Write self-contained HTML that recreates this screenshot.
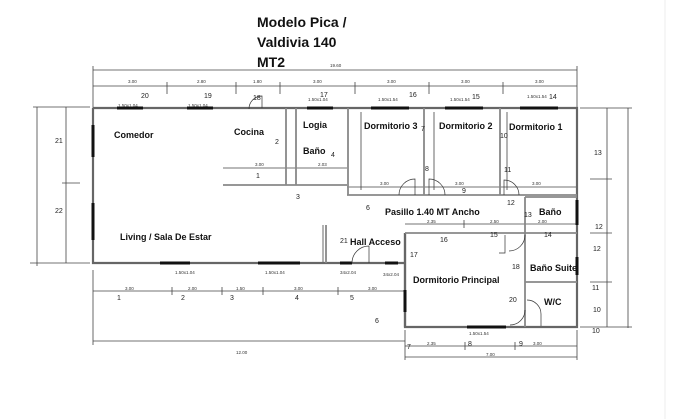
<!DOCTYPE html>
<html><head><meta charset="utf-8"><style>
html,body{margin:0;padding:0;background:#fff;}
svg{display:block;font-family:"Liberation Sans",sans-serif;}
.w{stroke:#666;stroke-width:2.2;fill:none;}
.wi{stroke:#888;stroke-width:1.8;fill:none;}
.d{stroke:#444;stroke-width:0.8;fill:none;}
.win{stroke:#111;stroke-width:3;}
.t{font-weight:bold;font-size:9px;fill:#111;}
.n{font-size:7px;fill:#222;}
.s{font-size:4.5px;fill:#333;}
.door{stroke:#333;stroke-width:0.7;fill:none;}
</style></head><body>
<svg width="680" height="419" viewBox="0 0 680 419">
<rect width="680" height="419" fill="#fff"/>
<line x1="665" y1="0" x2="665" y2="419" stroke="#eee" stroke-width="1"/>
<g font-weight="bold" font-size="14" fill="#111">
<text x="257" y="27">Modelo Pica /</text>
<text x="257" y="47">Valdivia 140</text>
<text x="257" y="67">MT2</text>
</g>
<g class="d">
<line x1="93" y1="70" x2="577" y2="70"/>
<line x1="93" y1="86" x2="577" y2="86"/>
<line x1="93" y1="66" x2="93" y2="108"/><line x1="577" y1="66" x2="577" y2="108"/>
<line x1="167" y1="82" x2="167" y2="94"/><line x1="236" y1="82" x2="236" y2="94"/><line x1="280" y1="82" x2="280" y2="94"/>
<line x1="355" y1="82" x2="355" y2="94"/><line x1="429" y1="82" x2="429" y2="94"/><line x1="503" y1="82" x2="503" y2="94"/>
<line x1="37" y1="107" x2="37" y2="266"/><line x1="33" y1="107" x2="90" y2="107"/><line x1="30" y1="263" x2="90" y2="263"/>
<line x1="66" y1="107" x2="66" y2="263"/><line x1="62" y1="183" x2="80" y2="183"/>
<line x1="93" y1="270" x2="93" y2="345"/><line x1="405" y1="330" x2="405" y2="360"/>
<line x1="93" y1="291" x2="405" y2="291"/>
<line x1="93" y1="341" x2="405" y2="341"/>
<line x1="172" y1="287" x2="172" y2="295"/><line x1="222" y1="287" x2="222" y2="295"/><line x1="263" y1="287" x2="263" y2="295"/><line x1="338" y1="287" x2="338" y2="295"/>
<line x1="405" y1="346" x2="577" y2="346"/><line x1="405" y1="357" x2="577" y2="357"/>
<line x1="465" y1="342" x2="465" y2="350"/><line x1="515" y1="342" x2="515" y2="350"/><line x1="577" y1="330" x2="577" y2="360"/>
<line x1="607" y1="108" x2="607" y2="327"/><line x1="628" y1="108" x2="628" y2="328"/>
<line x1="580" y1="108" x2="632" y2="108"/><line x1="590" y1="179" x2="612" y2="179"/><line x1="590" y1="233" x2="612" y2="233"/><line x1="590" y1="282" x2="612" y2="282"/><line x1="580" y1="327" x2="632" y2="327"/>
<line x1="223" y1="168" x2="347" y2="168"/>
<line x1="347" y1="187" x2="577" y2="187"/>
<line x1="405" y1="224" x2="577" y2="224"/><line x1="464" y1="220" x2="464" y2="228"/><line x1="525" y1="220" x2="525" y2="228"/>
<line x1="361" y1="112" x2="361" y2="190"/><line x1="434" y1="112" x2="434" y2="190"/><line x1="507" y1="112" x2="507" y2="190"/>
<line x1="323" y1="225" x2="323" y2="262"/>
</g>
<g class="w">
<polyline points="93,108 577,108 577,327 405,327 405,233"/>
<polyline points="93,108 93,263 405,263"/>
<line x1="405" y1="233" x2="405" y2="327"/>
</g>
<g class="wi">
<line x1="223" y1="185" x2="347" y2="185"/>
<line x1="347" y1="195" x2="577" y2="195"/>
<line x1="286" y1="108" x2="286" y2="185"/><line x1="296" y1="108" x2="296" y2="185"/>
<line x1="348" y1="108" x2="348" y2="195"/><line x1="424" y1="108" x2="424" y2="195"/><line x1="500" y1="108" x2="500" y2="195"/>
<line x1="405" y1="233" x2="577" y2="233"/>
<line x1="525" y1="197" x2="525" y2="233"/><line x1="525" y1="197" x2="577" y2="197"/>
<line x1="525" y1="233" x2="525" y2="327"/><line x1="525" y1="282" x2="577" y2="282"/>
<line x1="326" y1="225" x2="326" y2="263"/>
</g>
<g class="win">
<line x1="117" y1="108" x2="143" y2="108"/><line x1="187" y1="108" x2="213" y2="108"/>
<line x1="307" y1="108" x2="333" y2="108"/><line x1="371" y1="108" x2="409" y2="108"/>
<line x1="445" y1="108" x2="483" y2="108"/><line x1="520" y1="108" x2="558" y2="108"/>
<line x1="93" y1="125" x2="93" y2="157"/><line x1="93" y1="203" x2="93" y2="240"/>
<line x1="160" y1="263" x2="190" y2="263"/><line x1="258" y1="263" x2="300" y2="263"/>
<line x1="340" y1="263" x2="352" y2="263"/><line x1="385" y1="263" x2="398" y2="263"/>
<line x1="405" y1="290" x2="405" y2="312"/><line x1="577" y1="200" x2="577" y2="225"/><line x1="577" y1="257" x2="577" y2="275"/>
<line x1="467" y1="327" x2="506" y2="327"/>
</g>
<g class="door">
<path d="M262,108 v-12 a13,13 0 0,0 -13,13"/>
<path d="M415,195 v-16 a16,16 0 0,0 -16,16"/><path d="M429,195 v-16 a16,16 0 0,1 16,16"/>
<path d="M504,195 v-15 a15,15 0 0,1 15,15"/>
<path d="M369,263 v-17 a17,17 0 0,0 -17,17"/>
<path d="M505,235 v18 h-6"/><path d="M525,235 a16,16 0 0,1 -16,16"/>
<path d="M525,310 a15,15 0 0,1 -15,15"/><path d="M527,300 a14,14 0 0,1 14,14 v12"/>
</g>
<text class="t" x="114" y="138">Comedor</text>
<text class="t" x="234" y="135">Cocina</text>
<text class="t" x="303" y="128">Logia</text>
<text class="t" x="303" y="154">Baño</text>
<text class="t" x="364" y="129">Dormitorio 3</text>
<text class="t" x="439" y="129">Dormitorio 2</text>
<text class="t" x="509" y="130">Dormitorio 1</text>
<text class="t" x="385" y="215">Pasillo 1.40 MT Ancho</text>
<text class="t" x="539" y="215">Baño</text>
<text class="t" x="120" y="240">Living / Sala De Estar</text>
<text class="t" x="350" y="245">Hall Acceso</text>
<text class="t" x="413" y="283">Dormitorio Principal</text>
<text class="t" x="530" y="271">Baño Suite</text>
<text class="t" x="544" y="305">W/C</text>
<g class="n">
<text x="141" y="98">20</text><text x="204" y="98">19</text><text x="253" y="100">18</text><text x="320" y="97">17</text>
<text x="409" y="97">16</text><text x="472" y="99">15</text><text x="549" y="99">14</text>
<text x="55" y="143">21</text><text x="55" y="213">22</text><text x="275" y="144">2</text><text x="256" y="178">1</text>
<text x="331" y="157">4</text><text x="296" y="199">3</text><text x="366" y="210">6</text><text x="421" y="131">7</text>
<text x="425" y="171">8</text><text x="462" y="193">9</text><text x="500" y="138">10</text><text x="504" y="172">11</text>
<text x="507" y="205">12</text><text x="524" y="217">13</text><text x="340" y="243">21</text><text x="440" y="242">16</text>
<text x="410" y="257">17</text><text x="512" y="269">18</text><text x="509" y="302">20</text><text x="544" y="237">14</text>
<text x="490" y="237">15</text><text x="594" y="155">13</text><text x="595" y="229">12</text><text x="593" y="251">12</text>
<text x="592" y="290">11</text><text x="593" y="312">10</text><text x="592" y="333">10</text>
<text x="117" y="300">1</text><text x="181" y="300">2</text><text x="230" y="300">3</text><text x="295" y="300">4</text><text x="350" y="300">5</text>
<text x="375" y="323">6</text><text x="407" y="349">7</text><text x="468" y="346">8</text><text x="519" y="346">9</text>
</g>
<g class="s">
<text x="128" y="83">3.00</text><text x="197" y="83">2.80</text><text x="253" y="83">1.80</text><text x="313" y="83">3.00</text>
<text x="387" y="83">3.00</text><text x="461" y="83">3.00</text><text x="535" y="83">3.00</text><text x="330" y="67">19.60</text>
<text x="118" y="107">1.50x1.04</text><text x="188" y="107">1.50x1.04</text><text x="308" y="101">1.50x1.04</text>
<text x="378" y="101">1.50x1.54</text><text x="450" y="101">1.50x1.54</text><text x="527" y="98">1.50x1.54</text>
<text x="255" y="166">3.00</text><text x="318" y="166">2.03</text><text x="380" y="185">3.00</text><text x="455" y="185">3.00</text><text x="532" y="185">3.00</text>
<text x="427" y="223">2.35</text><text x="490" y="223">2.50</text><text x="538" y="223">2.00</text>
<text x="125" y="290">3.00</text><text x="188" y="290">2.00</text><text x="236" y="290">1.50</text><text x="294" y="290">3.00</text><text x="368" y="290">3.00</text>
<text x="236" y="354">12.00</text><text x="427" y="345">2.35</text><text x="533" y="345">3.00</text><text x="486" y="356">7.00</text>
<text x="175" y="274">1.50x1.04</text><text x="265" y="274">1.50x1.04</text><text x="340" y="274">34x2.04</text><text x="383" y="276">34x2.04</text>
<text x="469" y="335">1.50x1.54</text>
</g>
</svg>
</body></html>
